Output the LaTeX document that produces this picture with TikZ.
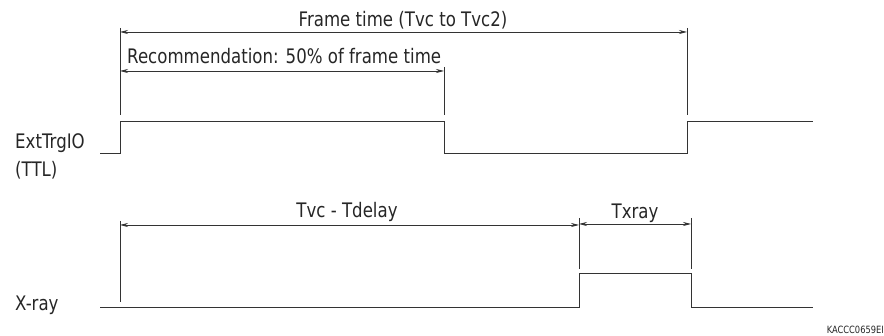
\documentclass[tikz,border=0pt]{standalone}
\usepackage{fontspec}
\setmainfont{DejaVu Sans}[FakeStretch=0.83]
\usetikzlibrary{arrows.meta}
\tikzset{
  sig/.style={line width=0.9pt, draw=black!80},
  ext/.style={line width=0.7pt, draw=black!80},
  dim/.style={line width=0.7pt, draw=black!80, {Stealth[length=8pt,width=4pt]}-{Stealth[length=8pt,width=4pt]}},
  lbl/.style={font=\fontsize{20}{24}\selectfont, text=black!85, inner sep=0pt}
}
\begin{document}
\begin{tikzpicture}[x=1pt,y=-1pt]
\useasboundingbox (0,0) rectangle (884,336);

% ExtTrgIO signal
\draw[sig] (100,153)--(120,153)--(120,121)--(444,121)--(444,153)--(687,153)--(687,121)--(813,121);

% X-ray signal
\draw[sig] (100,307)--(579,307)--(579,273)--(691,273)--(691,307)--(813,307);

% extension lines
\draw[ext] (120,28)--(120,115);
\draw[ext] (444,67)--(444,115);
\draw[ext] (687,28)--(687,115);
\draw[ext] (120,221)--(120,302);
\draw[ext] (579,218)--(579,269);
\draw[ext] (691,218)--(691,269);

% dimensions
\coordinate (fa) at (120,32);
\coordinate (fb) at (687,32);
\coordinate (ra) at (120,71);
\coordinate (rb) at (444,71);
\coordinate (ta) at (120,225);
\coordinate (tb) at (579,225);
\coordinate (xa) at (579,224);
\coordinate (xb) at (691,224);
\draw[dim] (fa)--(fb);
\draw[dim] (ra)--(rb);
\draw[dim] (ta)--(tb);
\draw[dim] (xa)--(xb);

% labels
\node[lbl] (frame) at (403,20) {Frame time (Tvc to Tvc2)};
\node[lbl, anchor=base west] (rec) at (127,64) {Recommendation: 50\% of frame time};
\node[lbl, anchor=base west] (trg) at (15,149) {ExtTrgIO};
\node[lbl, anchor=base west] (ttl) at (15,177) {(TTL)};
\node[lbl, anchor=base west] (xray) at (15,311) {X-ray};
\node[lbl, anchor=base] (tvc) at (347,218) {Tvc - Tdelay};
\node[lbl, anchor=base] (txr) at (635,219) {Txray};
\node[font=\fontsize{10}{12}\selectfont, text=black!85, inner sep=0pt, anchor=east] (code) at (884,330) {KACCC0659EI};
\end{tikzpicture}
\end{document}
